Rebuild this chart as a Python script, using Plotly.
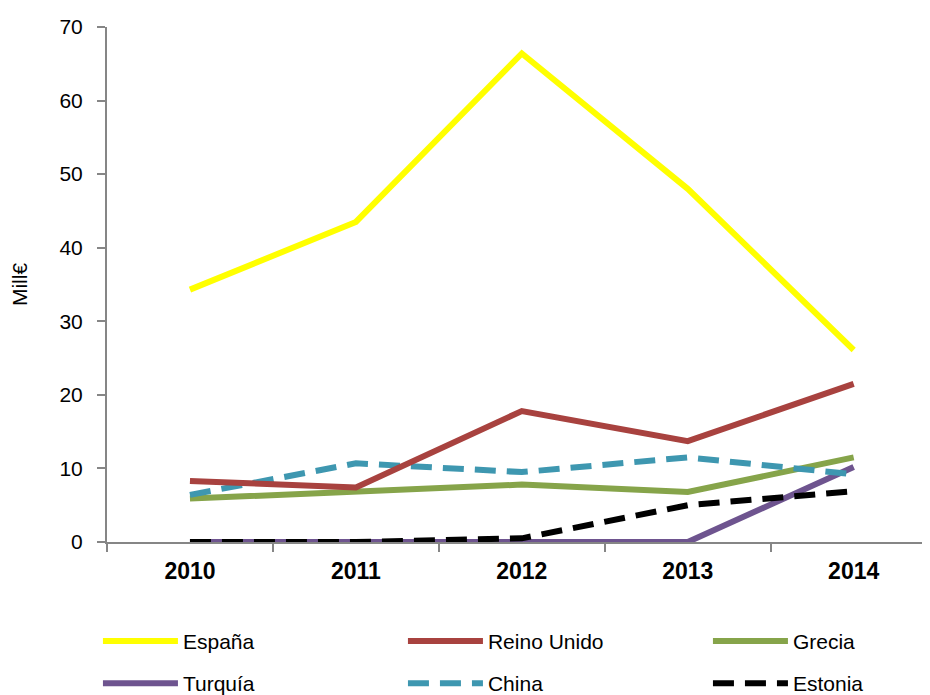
import plotly.graph_objects as go

# Datos (Mill€)
anios = ["2010", "2011", "2012", "2013", "2014"]
espana = [34.3, 43.5, 66.4, 48.0, 26.1]
reino_unido = [8.3, 7.4, 17.8, 13.7, 21.5]
grecia = [5.9, 6.8, 7.8, 6.8, 11.5]
turquia = [0.0, 0.0, 0.0, 0.0, 10.2]
china = [6.4, 10.7, 9.5, 11.5, 9.2]
estonia = [0.0, 0.0, 0.5, 5.0, 6.9]

FONT = "Arial, Liberation Sans, sans-serif"
DASH = "21px,11px"

series = [
    ("España", espana, "#FFFF00", "solid", "legend"),
    ("Reino Unido", reino_unido, "#A8423F", "solid", "legend"),
    ("Grecia", grecia, "#86A44A", "solid", "legend"),
    ("Turquía", turquia, "#6E548F", "solid", "legend2"),
    ("China", china, "#3E97B0", DASH, "legend2"),
    ("Estonia", estonia, "#000000", DASH, "legend2"),
]

fig = go.Figure()
# dibujar de abajo hacia arriba como en el original
for name, vals, color, dash, leg in [series[3], series[5], series[2], series[4], series[1], series[0]]:
    fig.add_trace(go.Scatter(
        x=anios, y=vals, name=name, mode="lines", legend=leg,
        line=dict(color=color, width=6, dash=dash),
        cliponaxis=False,
    ))

# orden de leyenda
rank = {s[0]: i for i, s in enumerate(series)}
for tr in fig.data:
    tr.legendrank = rank[tr.name]

legend_common = dict(
    orientation="h", xanchor="left", yanchor="middle",
    font=dict(family=FONT, size=21, color="#000000"),
    entrywidth=215, itemwidth=75, bgcolor="rgba(0,0,0,0)",
    traceorder="normal",
)

# la página tiene un margen de 8 px alrededor del gráfico
fig.update_layout(
    width=922, height=687,
    margin=dict(l=99, r=0, t=19, b=153, autoexpand=False),
    paper_bgcolor="white", plot_bgcolor="white",
    font=dict(family=FONT, color="#000000"),
    showlegend=True,
    legend=dict(x=-0.011, y=-0.193, **legend_common),
    legend2=dict(x=-0.011, y=-0.275, **legend_common),
    xaxis=dict(
        type="category", range=[-0.5, 4.46],
        showline=True, linecolor="#868686", linewidth=2,
        ticks="outside", tickson="boundaries", ticklen=8, tickcolor="#868686", tickwidth=2,
        tickfont=dict(family=FONT, size=23, color="#000000", weight="bold"),
        ticklabelstandoff=7,
        showgrid=False, zeroline=False, layer="below traces",
    ),
    yaxis=dict(
        range=[0, 70], tickvals=[0, 10, 20, 30, 40, 50, 60, 70],
        showline=True, linecolor="#868686", linewidth=2,
        ticks="outside", ticklen=8, tickcolor="#868686", tickwidth=2,
        tickfont=dict(family=FONT, size=21, color="#000000"),
        ticklabelstandoff=10,
        showgrid=False, zeroline=False, layer="below traces",
        title=dict(text="Mill€", font=dict(family=FONT, size=21, color="#000000"), standoff=26),
    ),
)

fig.write_html("out.html")
